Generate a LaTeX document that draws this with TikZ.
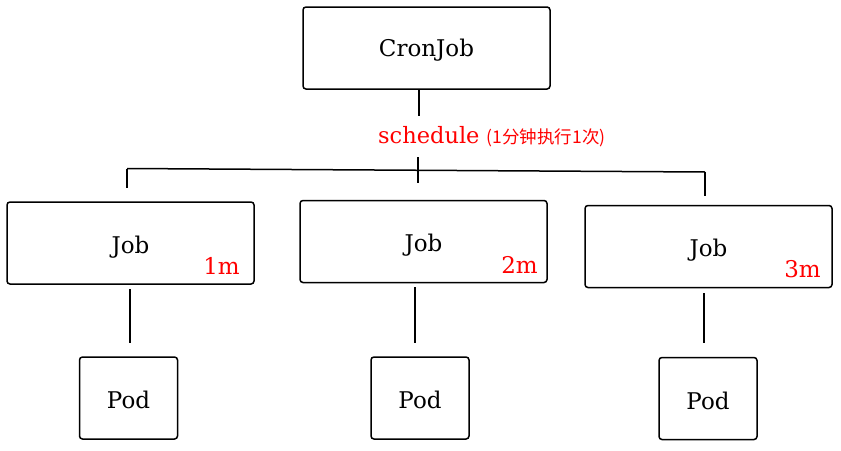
\documentclass[tikz,border=0pt]{standalone}
\usepackage{fontspec}
\setmainfont{DejaVu Serif}
\newfontfamily\cjk{Noto Sans CJK SC}
\newcommand{\lowr}[2]{\raisebox{-#1}[\height][\depth]{#2}}
\begin{document}
\begin{tikzpicture}[x=1pt,y=-1pt,
  box/.style={draw, line width=1.5pt, rounded corners=3pt, font=\fontsize{23}{26}\selectfont, inner sep=0pt},
  jobbox/.style={box, minimum width=247pt, minimum height=82pt},
  podbox/.style={box, minimum width=98pt, minimum height=82pt},
  conn/.style={line width=1.5pt},
  tag/.style={text=red, font=\fontsize{23}{26}\selectfont, inner sep=0pt}]
\useasboundingbox (0,0) rectangle (841,450);
\node[jobbox] (cron) at (426.5,48) {\lowr{2pt}{CronJob}};
\node[jobbox] (job1) at (130.5,243) {\lowr{4pt}{Job}};
\node[jobbox] (job2) at (423.5,241.5) {\lowr{4pt}{Job}};
\node[jobbox] (job3) at (708.5,246.5) {\lowr{4pt}{Job}};
\node[podbox] (pod1) at (128.5,398) {\lowr{2pt}{Pod}};
\node[podbox] (pod2) at (420,398) {\lowr{2pt}{Pod}};
\node[podbox] (pod3) at (708,398.5) {\lowr{2pt}{Pod}};
\node[tag, anchor=base east] (t1) at (240,274) {1m};
\node[tag, anchor=base east] (t2) at (538,273) {2m};
\node[tag, anchor=base east] (t3) at (821,277) {3m};
\node[text=red, inner sep=0pt, anchor=base west, font=\fontsize{22.5}{26}\selectfont] (sched) at (378,143) {schedule {\cjk\fontsize{17.5}{20}\selectfont (1分钟执行1次)}};
\coordinate (c1) at (419,90);
\coordinate (c2) at (419,116);
\coordinate (c3) at (418,157);
\coordinate (c4) at (418,183);
\coordinate (bl) at (127,168.5);
\coordinate (br) at (705,172);
\coordinate (bl2) at (127,188);
\coordinate (br2) at (705,196);
\coordinate (j1a) at (130,289);
\coordinate (j1b) at (130,343);
\coordinate (j2a) at (415,287);
\coordinate (j2b) at (415,343);
\coordinate (j3a) at (704,293);
\coordinate (j3b) at (704,343);
\draw[conn] (c1) -- (c2);
\draw[conn] (c3) -- (c4);
\draw[conn] (bl) -- (br);
\draw[conn] (bl) -- (bl2);
\draw[conn] (br) -- (br2);
\draw[conn] (j1a) -- (j1b);
\draw[conn] (j2a) -- (j2b);
\draw[conn] (j3a) -- (j3b);
\end{tikzpicture}
\end{document}
